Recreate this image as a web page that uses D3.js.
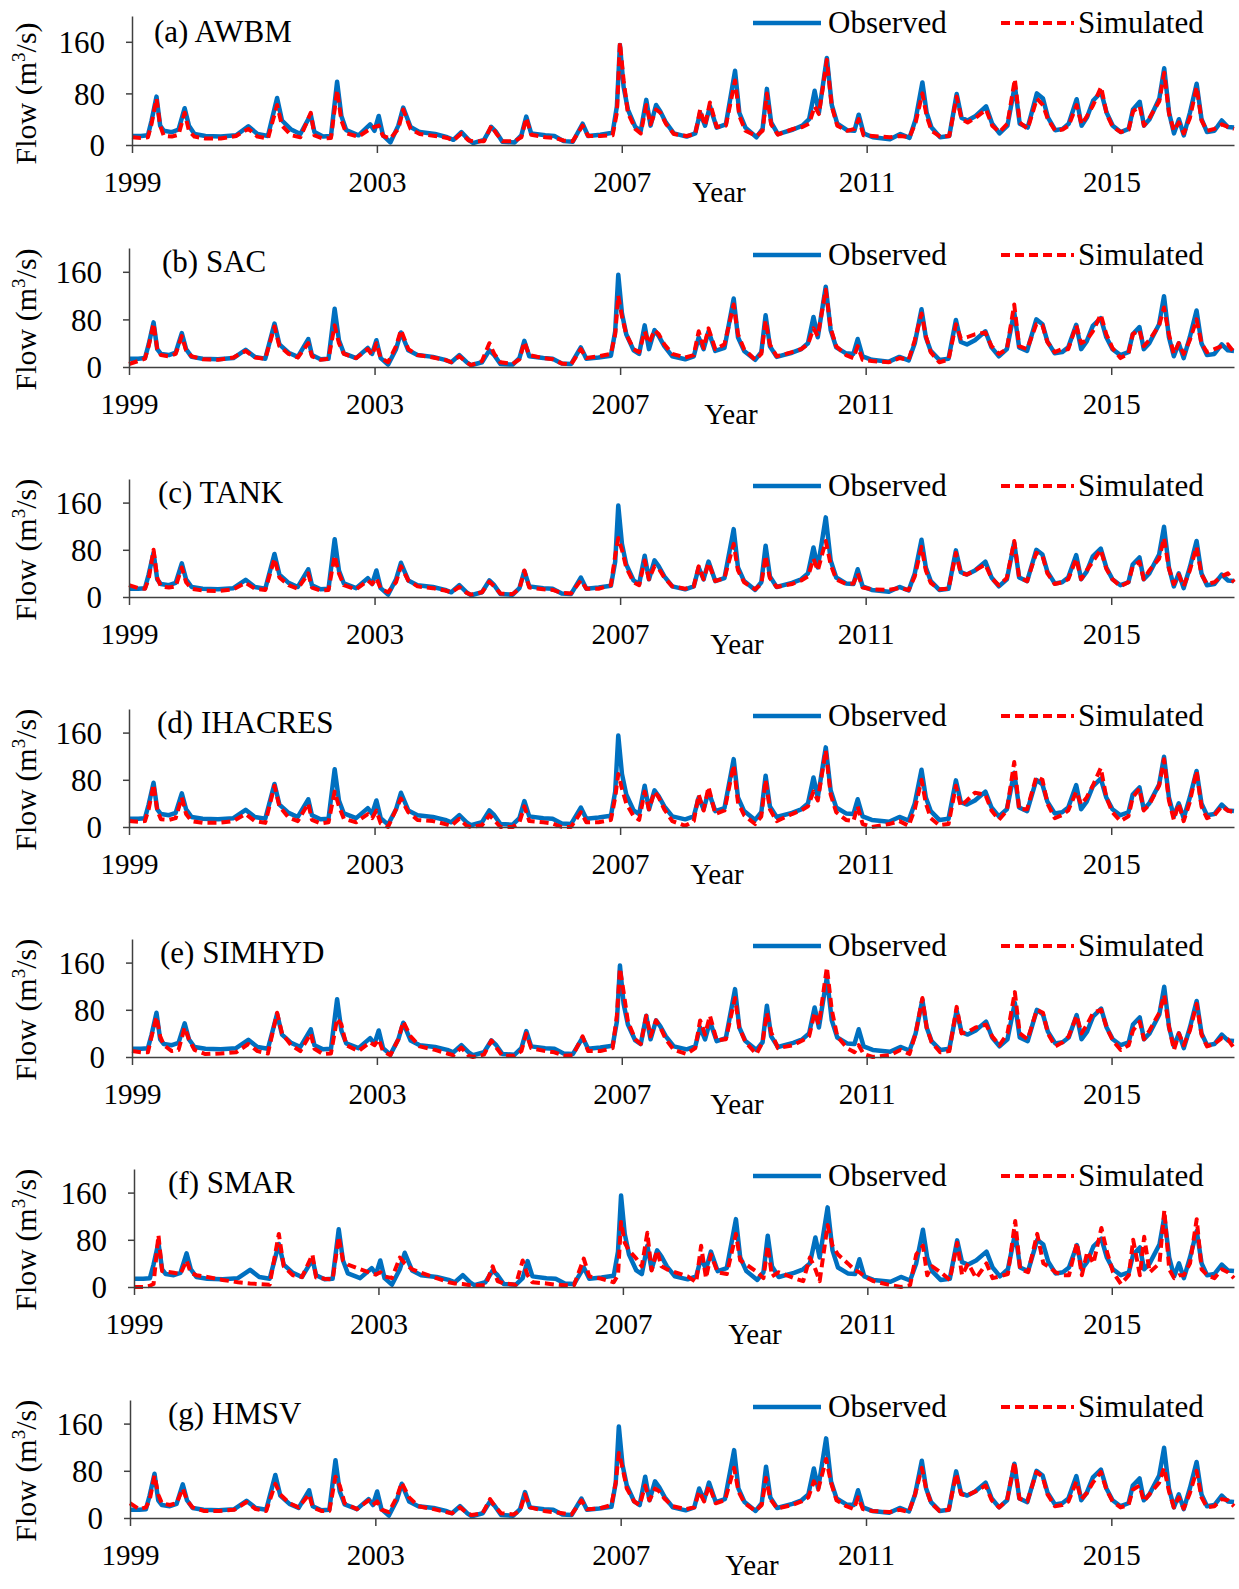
<!DOCTYPE html>
<html>
<head>
<meta charset="utf-8">
<script src="https://cdn.jsdelivr.net/npm/d3@7"></script>
<style>
  body { margin: 0; background: #fff; }
  svg { display: block; font-family: "Liberation Serif", "Times New Roman", serif; }
</style>
</head>
<body>
<svg id="chart" width="1239" height="1589"></svg>
<script>
// decimal-year sample times shared by every series
const years = [
  1999.00, 1999.15, 1999.26, 1999.32, 1999.40, 1999.46, 1999.52, 1999.65, 1999.76, 1999.86,
  1999.93, 2000.02, 2000.20, 2000.45, 2000.70, 2000.90, 2001.05, 2001.22, 2001.37, 2001.45,
  2001.60, 2001.75, 2001.92, 2001.98, 2002.12, 2002.25, 2002.35, 2002.42, 2002.50, 2002.70,
  2002.89, 2002.96, 2003.03, 2003.10, 2003.22, 2003.35, 2003.43, 2003.55, 2003.70, 2003.95,
  2004.15, 2004.25, 2004.38, 2004.50, 2004.57, 2004.75, 2004.87, 2004.95, 2005.05, 2005.25,
  2005.36, 2005.44, 2005.52, 2005.75, 2005.90, 2006.05, 2006.20, 2006.36, 2006.45, 2006.65,
  2006.85, 2006.92, 2006.97, 2007.03, 2007.10, 2007.22, 2007.31, 2007.40, 2007.47, 2007.56,
  2007.63, 2007.72, 2007.85, 2008.06, 2008.20, 2008.28, 2008.36, 2008.44, 2008.55, 2008.70,
  2008.85, 2008.92, 2009.02, 2009.20, 2009.30, 2009.37, 2009.44, 2009.55, 2009.80, 2009.95,
  2010.06, 2010.15, 2010.22, 2010.35, 2010.43, 2010.52, 2010.68, 2010.80, 2010.87, 2010.95,
  2011.10, 2011.38, 2011.55, 2011.70, 2011.80, 2011.91, 2011.98, 2012.06, 2012.20, 2012.35,
  2012.47, 2012.55, 2012.65, 2012.78, 2012.95, 2013.05, 2013.17, 2013.30, 2013.42, 2013.50,
  2013.63, 2013.78, 2013.88, 2013.96, 2014.08, 2014.20, 2014.30, 2014.43, 2014.51, 2014.60,
  2014.70, 2014.83, 2014.92, 2015.02, 2015.15, 2015.28, 2015.35, 2015.46, 2015.53, 2015.62,
  2015.78, 2015.86, 2015.94, 2016.02, 2016.10, 2016.18, 2016.28, 2016.39, 2016.47, 2016.56,
  2016.68, 2016.80, 2016.90, 2017.00
];

const observed = [
  14, 14, 15, 38, 75, 30, 22, 20, 24, 57,
  30, 17, 14, 13, 15, 29, 17, 14, 73, 38,
  24, 17, 47, 20, 13, 14, 98, 45, 23, 15,
  32, 22, 45, 15, 4, 30, 58, 28, 20, 17,
  12, 8, 20, 8, 3, 8, 28, 20, 5, 4,
  15, 44, 18, 15, 14, 6, 5, 33, 14, 16,
  19, 60, 155, 90, 55, 28, 22, 70, 30, 62,
  52, 35, 18, 13, 18, 50, 30, 60, 27, 32,
  115, 50, 27, 12, 25, 87, 35, 17, 24, 30,
  40, 84, 50, 135, 62, 33, 23, 22, 47, 18,
  12, 9, 17, 11, 40, 97, 50, 27, 12, 14,
  79, 42, 38, 45, 60, 33, 18, 30, 92, 33,
  27, 80, 72, 43, 23, 25, 33, 71, 30, 43,
  69, 82, 50, 30, 20, 25, 55, 67, 30, 40,
  72, 119, 50, 18, 40, 15, 50, 95, 40, 20,
  22, 38, 28, 27
];

const simAWBM = [
  12, 11, 12, 33, 72, 30, 14, 13, 16, 50,
  22, 13, 10, 10, 14, 25, 13, 10, 62, 30,
  15, 12, 50, 15, 10, 11, 85, 38, 18, 13,
  25, 28, 30, 14, 10, 25, 55, 25, 17, 14,
  11, 7, 18, 7, 6, 6, 30, 18, 6, 6,
  12, 42, 16, 12, 11, 7, 6, 30, 14, 14,
  15, 50, 159, 100, 50, 25, 18, 62, 32, 55,
  50, 33, 17, 14, 17, 55, 30, 66, 28, 30,
  100, 45, 22, 14, 22, 80, 32, 16, 25, 28,
  33, 60, 48, 132, 60, 30, 22, 25, 40, 15,
  14, 12, 14, 12, 35, 80, 45, 22, 13, 14,
  75, 40, 35, 42, 55, 30, 20, 33, 102, 35,
  25, 72, 62, 40, 22, 24, 30, 62, 32, 45,
  62, 90, 48, 28, 20, 24, 52, 60, 30, 42,
  68, 112, 48, 22, 35, 18, 42, 90, 38, 22,
  25, 32, 28, 25
];

const simSAC = [
  5, 10, 14, 35, 73, 30, 20, 18, 22, 52,
  28, 18, 13, 12, 16, 27, 16, 14, 68, 35,
  22, 16, 40, 18, 12, 14, 70, 40, 22, 15,
  30, 20, 40, 15, 8, 35, 62, 30, 20, 16,
  12, 8, 18, 8, 3, 10, 40, 22, 8, 5,
  13, 42, 20, 15, 13, 6, 4, 30, 15, 18,
  22, 55, 120, 85, 55, 30, 25, 60, 40, 62,
  55, 38, 22, 16, 20, 60, 32, 65, 30, 38,
  105, 55, 30, 12, 22, 78, 38, 18, 25, 30,
  38, 65, 52, 130, 65, 35, 20, 15, 35, 12,
  10, 8, 15, 12, 45, 90, 52, 25, 8, 12,
  72, 48, 50, 55, 58, 35, 22, 30, 105, 35,
  30, 72, 70, 42, 25, 30, 30, 70, 40, 45,
  60, 88, 55, 32, 15, 22, 55, 62, 35, 45,
  70, 100, 55, 22, 40, 22, 45, 80, 40, 25,
  30, 35, 38, 25
];

const simTANK = [
  20, 15, 14, 30, 80, 32, 18, 16, 18, 50,
  25, 14, 11, 10, 13, 24, 14, 12, 65, 33,
  20, 14, 40, 16, 11, 12, 70, 40, 20, 13,
  28, 22, 32, 14, 8, 25, 52, 28, 18, 15,
  11, 8, 17, 7, 4, 8, 26, 18, 6, 5,
  14, 45, 16, 13, 12, 7, 6, 28, 14, 14,
  20, 70, 100, 80, 50, 25, 20, 62, 30, 52,
  48, 33, 18, 14, 18, 52, 30, 58, 27, 32,
  90, 45, 25, 13, 22, 70, 32, 17, 22, 28,
  35, 65, 45, 95, 55, 30, 22, 23, 40, 16,
  13, 12, 15, 12, 35, 85, 45, 24, 13, 14,
  75, 40, 38, 45, 55, 32, 20, 32, 95, 33,
  27, 75, 70, 40, 22, 25, 30, 65, 30, 45,
  60, 80, 48, 30, 18, 25, 52, 60, 30, 45,
  65, 100, 48, 22, 38, 18, 45, 85, 38, 22,
  25, 35, 40, 25
];

const simIHACRES = [
  10, 9, 10, 30, 72, 28, 13, 12, 15, 50,
  22, 10, 7, 7, 10, 22, 10, 7, 70, 35,
  16, 10, 40, 12, 6, 8, 60, 35, 14, 8,
  22, 15, 28, 6, 0, 30, 48, 25, 12, 10,
  5, 2, 14, 2, 0, 3, 20, 12, 0, 0,
  8, 35, 10, 8, 6, 0, 0, 25, 8, 8,
  12, 50, 90, 65, 40, 18, 12, 60, 30, 60,
  50, 30, 10, 2, 10, 55, 28, 68, 22, 28,
  105, 42, 20, 5, 18, 80, 30, 10, 22, 28,
  35, 60, 45, 130, 55, 25, 12, 10, 35, 5,
  0, 5, 10, 2, 30, 80, 40, 15, 3, 5,
  70, 35, 45, 58, 55, 28, 12, 28, 110, 30,
  30, 85, 80, 40, 15, 20, 28, 60, 38, 50,
  70, 100, 50, 25, 10, 18, 50, 65, 28, 38,
  70, 115, 45, 12, 40, 10, 42, 95, 35, 15,
  20, 35, 28, 25
];

const simSIMHYD = [
  10, 8, 8, 35, 68, 35, 20, 10, 12, 50,
  30, 12, 5, 6, 8, 22, 10, 6, 75, 40,
  20, 10, 40, 14, 5, 6, 65, 55, 20, 10,
  25, 20, 30, 10, 3, 30, 60, 35, 18, 12,
  6, 3, 16, 2, 0, 4, 28, 16, 2, 2,
  10, 40, 15, 10, 8, 2, 3, 35, 10, 10,
  15, 70, 150, 110, 60, 30, 22, 70, 35, 62,
  50, 30, 12, 5, 15, 62, 38, 70, 28, 30,
  100, 50, 25, 5, 25, 75, 42, 15, 20, 28,
  35, 75, 55, 152, 80, 35, 15, 8, 20, 5,
  0, 3, 12, 5, 40, 100, 50, 25, 8, 10,
  85, 40, 42, 50, 55, 35, 20, 40, 110, 40,
  30, 80, 75, 40, 18, 25, 35, 70, 40, 55,
  75, 80, 50, 28, 12, 20, 45, 60, 30, 45,
  75, 105, 50, 12, 40, 20, 45, 90, 38, 18,
  22, 32, 30, 15
];

const simSMAR = [
  0, 0, 2, 5, 88, 27, 26, 24, 22, 45,
  24, 20, 17, 12, 8, 6, 5, 4, 90, 35,
  20, 17, 55, 16, 14, 13, 85, 45, 38, 30,
  23, 21, 25, 18, 15, 50, 40, 30, 24, 15,
  8, 6, 5, 3, 3, 3, 35, 10, 6, 4,
  45, 20, 8, 6, 4, 3, 3, 48, 18, 14,
  8, 20, 110, 75, 62, 48, 35, 92, 28, 62,
  35, 30, 25, 18, 8, 70, 15, 55, 25, 22,
  90, 45, 38, 25, 15, 70, 18, 25, 15, 10,
  50, 30, 10, 105, 70, 55, 40, 28, 25, 18,
  10, 3, 0, 3, 55, 70, 20, 35, 25, 12,
  75, 20, 40, 15, 40, 15, 18, 22, 112, 30,
  25, 90, 40, 35, 25, 20, 20, 75, 20, 60,
  40, 100, 60, 25, 5, 20, 80, 20, 85, 25,
  40, 130, 30, 15, 20, 20, 40, 115, 30, 20,
  15, 30, 25, 15
];

const simHMSV = [
  25, 15, 18, 30, 72, 40, 25, 22, 25, 50,
  30, 18, 12, 12, 14, 27, 15, 12, 58, 40,
  25, 18, 40, 18, 12, 12, 70, 55, 25, 15,
  30, 22, 28, 14, 10, 35, 60, 35, 20, 15,
  10, 8, 18, 8, 5, 8, 32, 20, 8, 6,
  12, 40, 18, 12, 10, 8, 6, 30, 15, 16,
  22, 60, 110, 85, 50, 28, 22, 55, 30, 50,
  45, 32, 20, 15, 18, 45, 28, 55, 25, 30,
  85, 45, 25, 12, 22, 68, 32, 16, 22, 28,
  35, 62, 48, 100, 60, 30, 20, 15, 35, 15,
  12, 10, 14, 10, 40, 85, 50, 25, 12, 14,
  75, 40, 38, 45, 55, 30, 18, 30, 95, 33,
  28, 78, 70, 40, 20, 22, 28, 62, 32, 42,
  60, 78, 48, 28, 18, 22, 48, 55, 28, 40,
  60, 85, 45, 18, 35, 16, 42, 80, 35, 18,
  20, 32, 30, 20
];

const panelTitles = ["(a) AWBM", "(b) SAC", "(c) TANK", "(d) IHACRES", "(e) SIMHYD", "(f) SMAR", "(g) HMSV"];
const simulated = [simAWBM, simSAC, simTANK, simIHACRES, simSIMHYD, simSMAR, simHMSV];
const yearTicks = [1999, 2003, 2007, 2011, 2015];
const flowTicks = [0, 80, 160];

const layout = [
  { left: 132, base: 145, top: 16,   titleX: 154, yearX: 719 },
  { left: 129, base: 367, top: 248,  titleX: 162, yearX: 731 },
  { left: 129, base: 597, top: 479,  titleX: 158, yearX: 737 },
  { left: 129, base: 827, top: 709,  titleX: 157, yearX: 717 },
  { left: 132, base: 1057, top: 939, titleX: 160, yearX: 737 },
  { left: 134, base: 1287, top: 1169, titleX: 168, yearX: 755 },
  { left: 130, base: 1518, top: 1400, titleX: 168, yearX: 752 }
];
const right = 1234;
const blue = "#0070C0", red = "#FF0000";

const svg = d3.select("#chart");

layout.forEach((p, i) => {
  const x = d3.scaleLinear().domain([1999, 2017]).range([p.left, right]);
  const y = d3.scaleLinear().domain([0, 200]).range([p.base, p.top]);
  const g = svg.append("g");

  const line = data => d3.line()
    .x((d, j) => x(years[j]))
    .y(d => y(d))(data);

  g.append("path").attr("d", line(observed))
    .attr("fill", "none").attr("stroke", blue).attr("stroke-width", 4.5)
    .attr("stroke-linejoin", "round");
  g.append("path").attr("d", line(simulated[i]))
    .attr("fill", "none").attr("stroke", red).attr("stroke-width", 4)
    .attr("stroke-dasharray", "9,5").attr("stroke-linejoin", "round");

  const xAxis = g.append("g").attr("transform", `translate(0,${p.base})`)
    .call(d3.axisBottom(x).tickValues(yearTicks).tickFormat(d3.format("d")).tickSize(8).tickSizeOuter(0));
  const yAxis = g.append("g").attr("transform", `translate(${p.left},0)`)
    .call(d3.axisLeft(y).tickValues(flowTicks).tickSize(6).tickSizeOuter(0));

  [xAxis, yAxis].forEach(a => {
    a.attr("font-family", null);
    a.selectAll("path, line").attr("stroke", "#404040").attr("stroke-width", 1.5);
    a.selectAll("text").attr("fill", "#000");
  });
  xAxis.selectAll("text").style("font-size", "29px").attr("y", 18).attr("dy", "1.0em");
  yAxis.selectAll("text").style("font-size", "31px").attr("x", -27).attr("dy", "0.35em");

  g.append("text").attr("x", p.yearX).attr("y", p.base + 57)
    .attr("text-anchor", "middle").style("font-size", "29px").text("Year");

  const yMid = y(80);
  const ylab = g.append("text")
    .attr("transform", `translate(36,${yMid}) rotate(-90)`)
    .attr("text-anchor", "middle").style("font-size", "30px");
  ylab.append("tspan").text("Flow (m");
  ylab.append("tspan").attr("dy", -11).style("font-size", "19px").text("3");
  ylab.append("tspan").attr("dy", 11).text("/s)");

  g.append("text").attr("x", p.titleX).attr("y", y(163) + 2)
    .style("font-size", "31px").text(panelTitles[i]);

  // legend
  const ly = p.top + 7;
  g.append("line").attr("x1", 753).attr("x2", 821).attr("y1", ly).attr("y2", ly)
    .attr("stroke", blue).attr("stroke-width", 4.5);
  g.append("text").attr("x", 828).attr("y", ly + 10).style("font-size", "31px").text("Observed");
  g.append("line").attr("x1", 1001).attr("x2", 1074).attr("y1", ly).attr("y2", ly)
    .attr("stroke", red).attr("stroke-width", 4).attr("stroke-dasharray", "9,5");
  g.append("text").attr("x", 1078).attr("y", ly + 10).style("font-size", "31px").text("Simulated");
});
</script>
</body>
</html>
